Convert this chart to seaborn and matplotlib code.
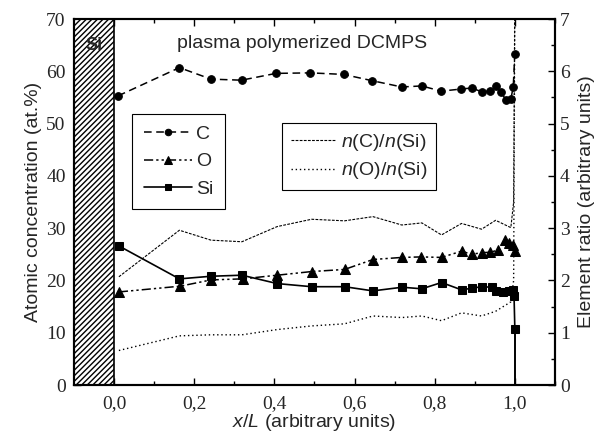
import numpy as np
import pandas as pd
import matplotlib
matplotlib.use("Agg")
import matplotlib.pyplot as plt
import seaborn as sns
from matplotlib.ticker import MultipleLocator

# depth positions and concentrations (at.%)
x_c = [0.01, 0.163, 0.242, 0.318, 0.404, 0.49, 0.573, 0.644, 0.718, 0.768, 0.816,
       0.865, 0.892, 0.917, 0.939, 0.952, 0.965, 0.977, 0.99, 0.996, 1.0]
c_conc = [55.3, 60.7, 58.5, 58.3, 59.6, 59.7, 59.4, 58.2, 57.0, 57.2, 56.2,
          56.6, 56.8, 56.1, 56.2, 57.1, 56.1, 54.6, 54.7, 57.0, 63.4]

x_o = [0.012, 0.165, 0.242, 0.321, 0.407, 0.493, 0.575, 0.646, 0.718, 0.767, 0.817,
       0.867, 0.892, 0.917, 0.939, 0.958, 0.975, 0.986, 0.996, 1.0]
o_conc = [17.8, 18.9, 20.1, 20.3, 21.0, 21.7, 22.1, 24.0, 24.4, 24.5, 24.4,
          25.6, 25.0, 25.3, 25.4, 25.8, 27.7, 27.2, 26.8, 25.6]

x_si = [0.012, 0.163, 0.242, 0.319, 0.407, 0.493, 0.575, 0.646, 0.719, 0.768, 0.817,
        0.867, 0.892, 0.917, 0.942, 0.954, 0.971, 0.986, 0.996, 0.998, 1.0]
si_conc = [26.6, 20.3, 20.8, 21.0, 19.4, 18.8, 18.8, 18.0, 18.7, 18.4, 19.6,
           18.2, 18.5, 18.8, 18.7, 18.0, 17.8, 17.9, 18.2, 17.0, 10.8]

# element ratios (right axis)
x_ratio = [0.012, 0.163, 0.242, 0.319, 0.407, 0.493, 0.575, 0.646, 0.718, 0.768, 0.817,
           0.867, 0.917, 0.952, 0.99, 0.997, 1.0]
c_si = [2.07, 2.96, 2.77, 2.74, 3.03, 3.17, 3.14, 3.22, 3.06, 3.10, 2.87,
        3.09, 2.98, 3.15, 3.01, 3.5, 7.5]
o_si = [0.66, 0.94, 0.96, 0.96, 1.06, 1.13, 1.17, 1.32, 1.29, 1.32, 1.23,
        1.38, 1.32, 1.41, 1.59, 2.0, 7.5]

xticks = [0.0, 0.2, 0.4, 0.6, 0.8, 1.0]
xtick_labels = ["0,0", "0,2", "0,4", "0,6", "0,8", "1,0"]

sns.set_style("ticks")
plt.rcParams["font.family"] = ["Liberation Sans", "DejaVu Sans"]
plt.rcParams["mathtext.fontset"] = "custom"
plt.rcParams["mathtext.rm"] = "Liberation Sans"
plt.rcParams["mathtext.it"] = "Liberation Sans:italic"
plt.rcParams["hatch.linewidth"] = 1.0

fig = plt.figure(figsize=(6.08, 4.38), dpi=100)
ax = fig.add_axes([0.1217, 0.121, 0.791, 0.8356])
ax2 = ax.twinx()

ax.set_xlim(-0.1, 1.1)
ax.set_ylim(0, 70)
ax2.set_ylim(0, 7)

# Si substrate region
ax.axvspan(-0.1, 0.0, facecolor="white", edgecolor="black", hatch="//////", lw=1.2, zorder=1)
ax.text(-0.05, 65, "Si", fontsize=13, fontweight="bold", va="center", ha="center", zorder=3)

df_c = pd.DataFrame({"x": x_c, "y": c_conc})
df_o = pd.DataFrame({"x": x_o, "y": o_conc})
df_si = pd.DataFrame({"x": x_si, "y": si_conc})

sns.lineplot(data=df_c, x="x", y="y", ax=ax, sort=False, estimator=None, color="black",
             lw=1.1, marker="o", markersize=5.5, linestyle=(0, (5, 3)),
             markeredgecolor="black", label="C", zorder=4)
sns.lineplot(data=df_o, x="x", y="y", ax=ax, sort=False, estimator=None, color="black",
             lw=1.1, marker="^", markersize=6.5, linestyle=(0, (6, 2, 1.5, 2, 1.5, 2)),
             markeredgecolor="black", label="O", zorder=4)
sns.lineplot(data=df_si, x="x", y="y", ax=ax, sort=False, estimator=None, color="black",
             lw=1.2, marker="s", markersize=5.5, linestyle="-",
             markeredgecolor="black", label="Si", zorder=4)
# Si drops to zero at the surface
ax.plot([x_si[-1], x_si[-1]], [si_conc[-1], 0], color="black", lw=1.4, zorder=4)

df_r = pd.DataFrame({"x": x_ratio, "cs": c_si, "os": o_si})
sns.lineplot(data=df_r, x="x", y="cs", ax=ax2, sort=False, estimator=None, color="black",
             lw=0.8, linestyle=(0, (2.5, 1.2)), label=r"$n$(C)/$n$(Si)")
sns.lineplot(data=df_r, x="x", y="os", ax=ax2, sort=False, estimator=None, color="black",
             lw=1.0, linestyle=(0, (1, 2)), label=r"$n$(O)/$n$(Si)")

ax.set_xticks(xticks)
ax.set_xticklabels(xtick_labels)
ax.xaxis.set_minor_locator(MultipleLocator(0.1))
ax.yaxis.set_major_locator(MultipleLocator(10))
ax.yaxis.set_minor_locator(MultipleLocator(5))
ax2.yaxis.set_major_locator(MultipleLocator(1))
ax2.yaxis.set_minor_locator(MultipleLocator(0.5))

for a in (ax, ax2):
    a.tick_params(which="both", direction="in", color="black", width=1)
    a.tick_params(which="major", length=5)
    a.tick_params(which="minor", length=3)
    for lab in a.get_xticklabels() + a.get_yticklabels():
        lab.set_fontfamily("Liberation Serif")
        lab.set_fontsize(14)
    for s in a.spines.values():
        s.set_linewidth(1.5)
        s.set_color("black")
ax.tick_params(top=True, which="both")
ax.tick_params(axis="x", pad=7)
ax.tick_params(axis="y", pad=6)

ax.set_xlabel(r"$x/L$ (arbitrary units)", fontsize=14, labelpad=0)
ax.set_ylabel("Atomic concentration (at.%)", fontsize=14, labelpad=3)
ax2.set_ylabel("Element ratio (arbitrary units)", fontsize=14, labelpad=6)

ax.text(0.158, 65.4, "plasma polymerized DCMPS", fontsize=14, ha="left", va="center")

leg1 = ax.legend(loc="upper left", bbox_to_anchor=(0.121, 0.741), borderaxespad=0,
                 fontsize=14, handlelength=2.5, labelspacing=0.5, fancybox=False,
                 edgecolor="black", framealpha=1, borderpad=0.6, handletextpad=0.2,
                 markerscale=0.85)
leg1.get_frame().set_linewidth(0.8)
leg2 = ax2.legend(loc="upper left", bbox_to_anchor=(0.432, 0.716), borderaxespad=0,
                  fontsize=14, handlelength=2.3, labelspacing=0.4, fancybox=False,
                  edgecolor="black", framealpha=1, borderpad=0.45, handletextpad=0.3)
leg2.get_frame().set_linewidth(0.8)

fig.savefig("out.png", dpi=100)
